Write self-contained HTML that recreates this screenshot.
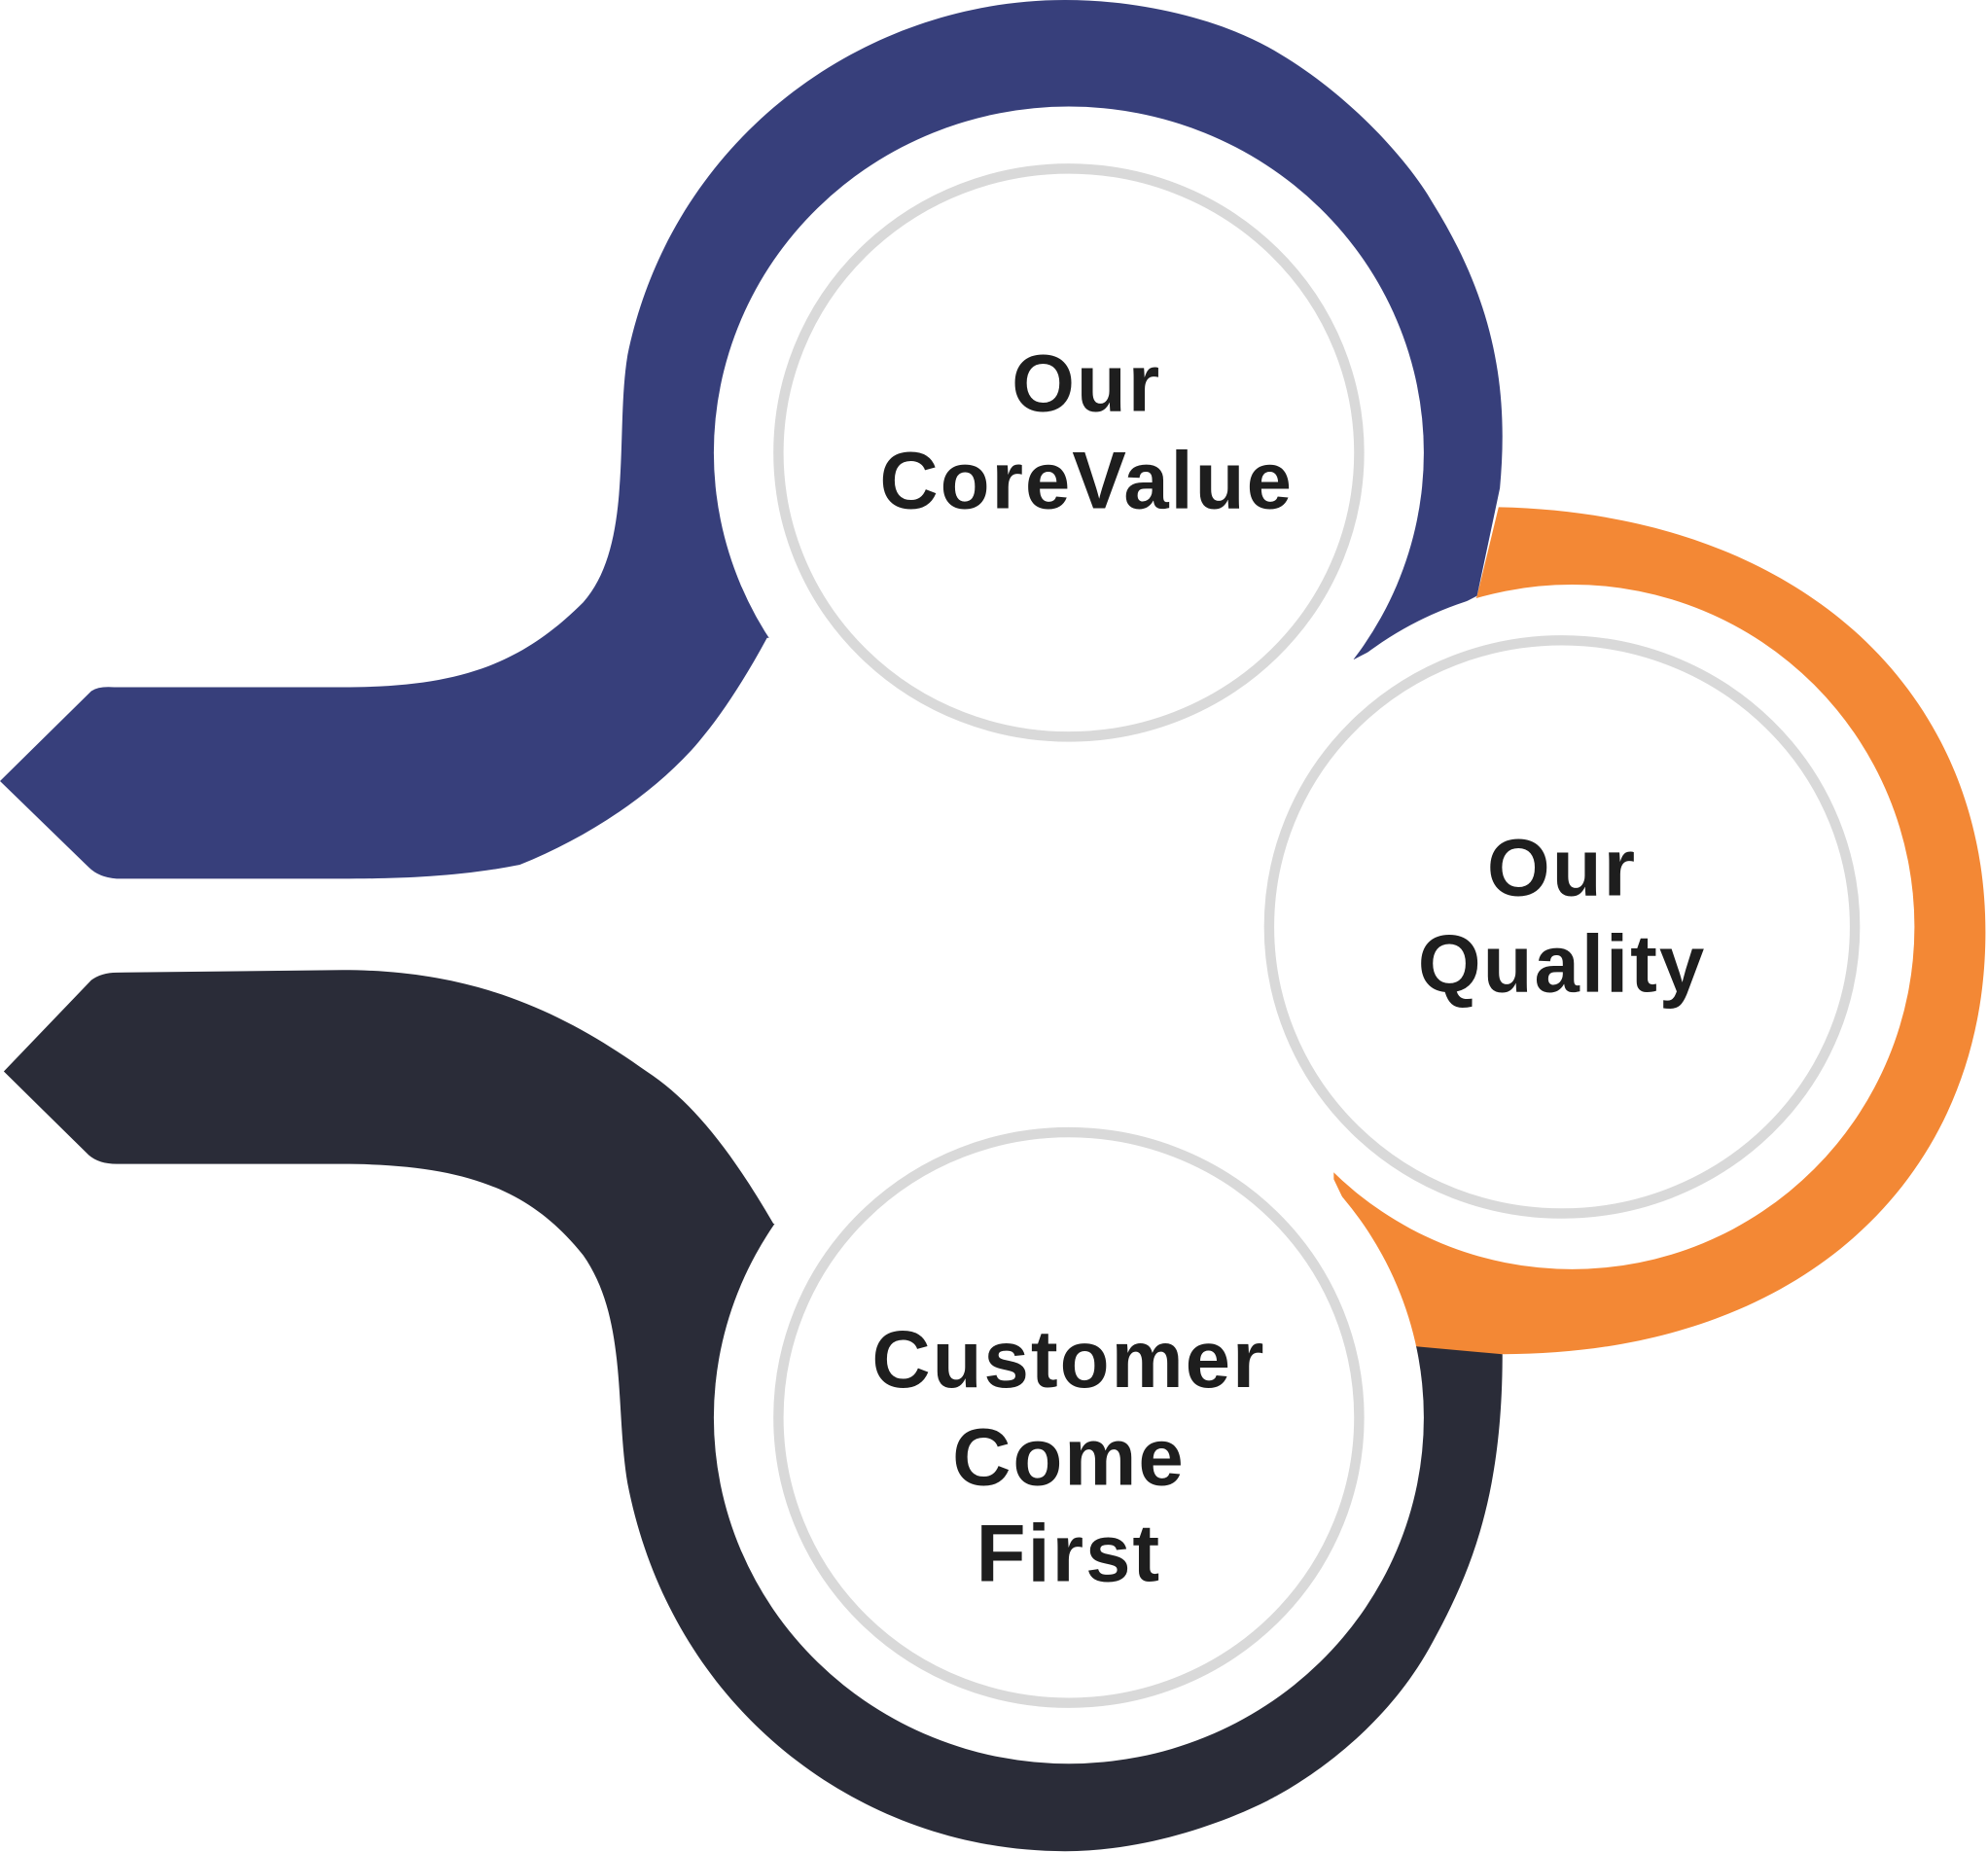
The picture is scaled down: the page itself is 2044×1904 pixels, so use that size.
<!DOCTYPE html>
<html>
<head>
<meta charset="utf-8">
<style>
  html,body{margin:0;padding:0;background:#fff;}
  svg{display:block;}
  text{font-family:"Liberation Sans",sans-serif;font-weight:bold;fill:#1e1e1e;text-anchor:middle;}
</style>
</head>
<body>
<svg width="2044" height="1904" viewBox="0 0 1568 1460.6" preserveAspectRatio="none" xmlns="http://www.w3.org/2000/svg">
  <path fill="#373f7b" d="M0,616 L72,545 Q78,541 90,542 L270,542 C360,542 410,525 460,475 C500,430 485,340 495,280 C530,110 680,0 840,0 C900,0 960,15 1000,37 C1060,70 1110,125 1130,160 C1180,240 1190,310 1183,385 L1165,470 L1068,520 L605,503 C585,540 565,570 545,592 C510,630 460,662 410,682 C360,692 310,693 270,693 L92,693 Q78,692 70,684 Z"/>
  <path fill="#f38835" d="M1182,400 C1420,405 1566,545 1566,735 C1566,930 1420,1068 1185,1068 C1160,1068 1135,1065 1115,1062 L1052,930 L1050,731 L1165,470 Z"/>
  <path fill="#2a2c38" d="M3,845 L72,773 Q80,767 92,767 L270,765 C370,765 440,795 510,845 C545,868 575,905 610,965 L1118,1062 L1185,1068 C1185,1180 1160,1240 1130,1295 C1090,1370 1020,1410 1000,1420 C960,1440 900,1460 840,1460 C680,1460 530,1350 495,1170 C485,1110 495,1040 460,990 C420,940 370,918 270,918 L92,918 Q78,918 70,911 Z"/>
  <ellipse cx="843" cy="357" rx="280" ry="273" fill="#fff"/>
  <ellipse cx="1240" cy="731" rx="270" ry="270" fill="#fff"/>
  <ellipse cx="843" cy="1118" rx="280" ry="273" fill="#fff"/>
  <ellipse cx="843" cy="357" rx="229" ry="224" fill="none" stroke="#d9d9d9" stroke-width="8"/>
  <ellipse cx="1232" cy="731" rx="231" ry="226" fill="none" stroke="#d9d9d9" stroke-width="8"/>
  <ellipse cx="843" cy="1118" rx="229" ry="225" fill="none" stroke="#d9d9d9" stroke-width="8"/>
  <g font-size="64" letter-spacing="1.5">
    <text x="857" y="324">Our</text>
    <text x="857" y="401">CoreValue</text>
    <text x="1232" y="706">Our</text>
    <text x="1232" y="782">Quality</text>
    <text x="843" y="1094">Customer</text>
    <text x="843" y="1171">Come</text>
    <text x="843" y="1247">First</text>
  </g>
</svg>
</body>
</html>
